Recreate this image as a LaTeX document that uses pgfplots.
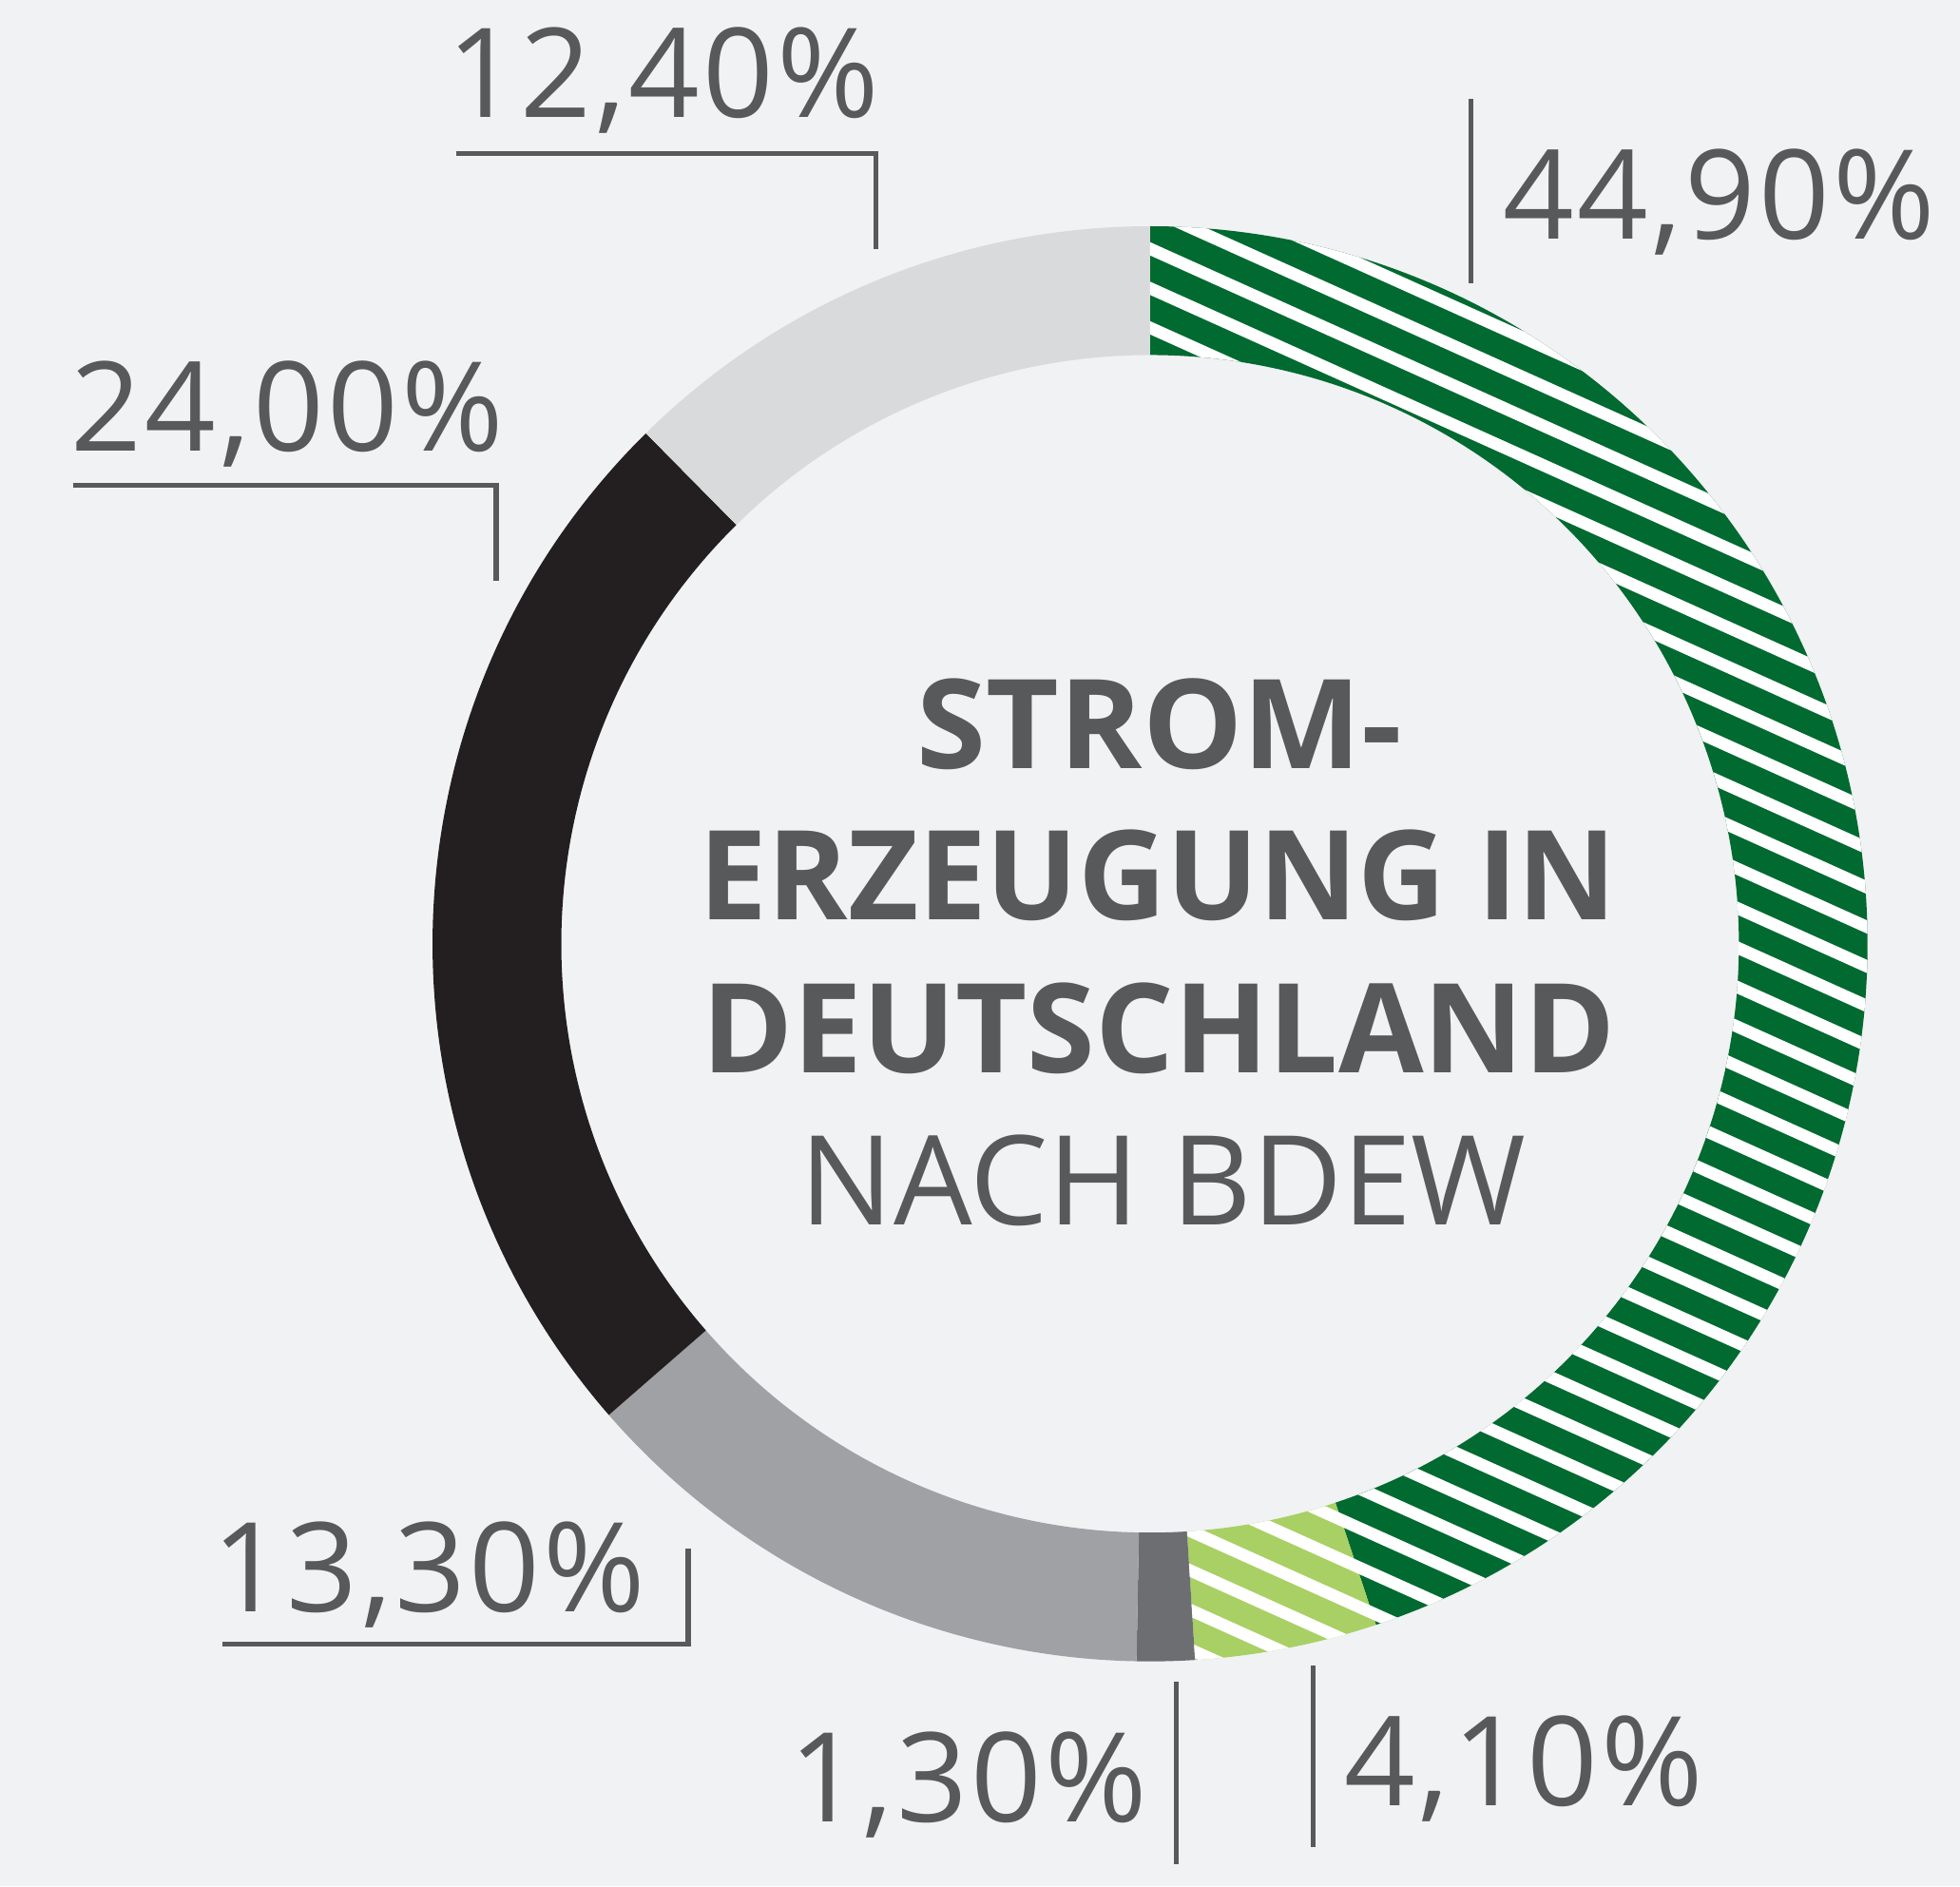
\documentclass[border=0pt]{standalone}
\usepackage{pgfplots}
\pgfplotsset{compat=1.18}
\usepackage{fontspec}
\setmainfont{Open Sans}

\definecolor{bg}{RGB}{241,242,244}
\definecolor{txt}{RGB}{88,89,91}
\definecolor{dgreen}{RGB}{0,106,48}
\definecolor{lgreen}{RGB}{168,208,100}
\definecolor{dgrey}{RGB}{109,110,114}
\definecolor{mgrey}{RGB}{160,161,164}
\definecolor{blk}{RGB}{35,31,32}
\definecolor{lgrey}{RGB}{217,218,220}

% ring geometry (axis units, 1 unit = 0.5pt)
\def\cx{920}
\def\cy{754}
\def\Ro{287pt}
\def\Ri{235.5pt}

% annular sector between two cumulative shares (in %), clockwise from 12 o'clock
\newcommand{\ring}[2]{%
  ([shift={({90-3.6*(#1)}:\Ro)}]axis cs:\cx,\cy)
  arc[start angle={90-3.6*(#1)}, end angle={90-3.6*(#2)}, radius=\Ro]
  -- ([shift={({90-3.6*(#2)}:\Ri)}]axis cs:\cx,\cy)
  arc[start angle={90-3.6*(#2)}, end angle={90-3.6*(#1)}, radius=\Ri]
  -- cycle}

\tikzset{
  pct/.style={anchor=base, inner sep=0pt, text=txt,
    font=\fontsize{49.7pt}{50pt}\selectfont\addfontfeature{LetterSpace=2.5}},
  ttl/.style={anchor=base, inner sep=0pt, text=txt,
    font=\fontsize{49.7pt}{50pt}\selectfont},
  lead/.style={txt, line width=2pt, line join=miter},
}

\begin{document}
\begin{tikzpicture}
\begin{axis}[
  x=0.5pt, y=0.5pt,
  xmin=0, xmax=1568, ymin=0, ymax=1509,
  scale only axis, hide axis, clip=false,
]
  \fill[bg] (axis cs:0,0) rectangle (axis cs:1568,1509);

  % shares: 44.9 / 4.1 / 1.3 / 13.3 / 24.0 / 12.4
  \fill[dgreen] \ring{0}{44.9};
  \fill[lgreen] \ring{44.9}{49.0};
  \fill[dgrey]  \ring{49.0}{50.3};
  \fill[mgrey]  \ring{50.3}{63.6};
  \fill[blk]    \ring{63.6}{87.6};
  \fill[lgrey]  \ring{87.6}{100};

  % white hatching on the two green parts
  \begin{scope}
    \clip \ring{0}{49.0};
    \pgfplotsinvokeforeach{-2,...,38}{
      \draw[white, line width=4.85pt]
        (axis cs:900,{1319-31.6*#1}) -- (axis cs:1520,{1040-31.6*#1});
    }
  \end{scope}

  % leader lines
  \draw[lead] (axis cs:365,1386) -- (axis cs:700.8,1386) -- (axis cs:700.8,1310);
  \draw[lead] (axis cs:58.3,1120.7) -- (axis cs:397,1120.7) -- (axis cs:397,1044.6);
  \draw[lead] (axis cs:1176.8,1430.2) -- (axis cs:1176.8,1282);
  \draw[lead] (axis cs:178.2,194) -- (axis cs:550.6,194) -- (axis cs:550.6,270.3);
  \draw[lead] (axis cs:940.9,163.6) -- (axis cs:940.9,17.8);
  \draw[lead] (axis cs:1050.4,177) -- (axis cs:1050.4,31.3);

  % value labels
  \node[pct] at (axis cs:530.4,1415.2) {12,40\%};
  \node[pct] at (axis cs:230,1148.5) {24,00\%};
  \node[pct] at (axis cs:1375.3,1318) {44,90\%};
  \node[pct] at (axis cs:343.3,220) {13,30\%};
  \node[pct] at (axis cs:774.5,51.6) {1,30\%};
  \node[pct] at (axis cs:1219.3,64.7) {4,10\%};

  % centre title
  \node[ttl] at (axis cs:927.7,894.5) {\resizebox{194pt}{\height}{\bfseries STROM-}};
  \node[ttl] at (axis cs:926.5,773) {\resizebox{367pt}{\height}{\bfseries ERZEUGUNG IN}};
  \node[ttl] at (axis cs:927,651.2) {\resizebox{365.5pt}{\height}{\bfseries DEUTSCHLAND}};
  \node[ttl] at (axis cs:930.6,529.4) {\resizebox{290.5pt}{\height}{NACH BDEW}};
\end{axis}
\end{tikzpicture}
\end{document}
